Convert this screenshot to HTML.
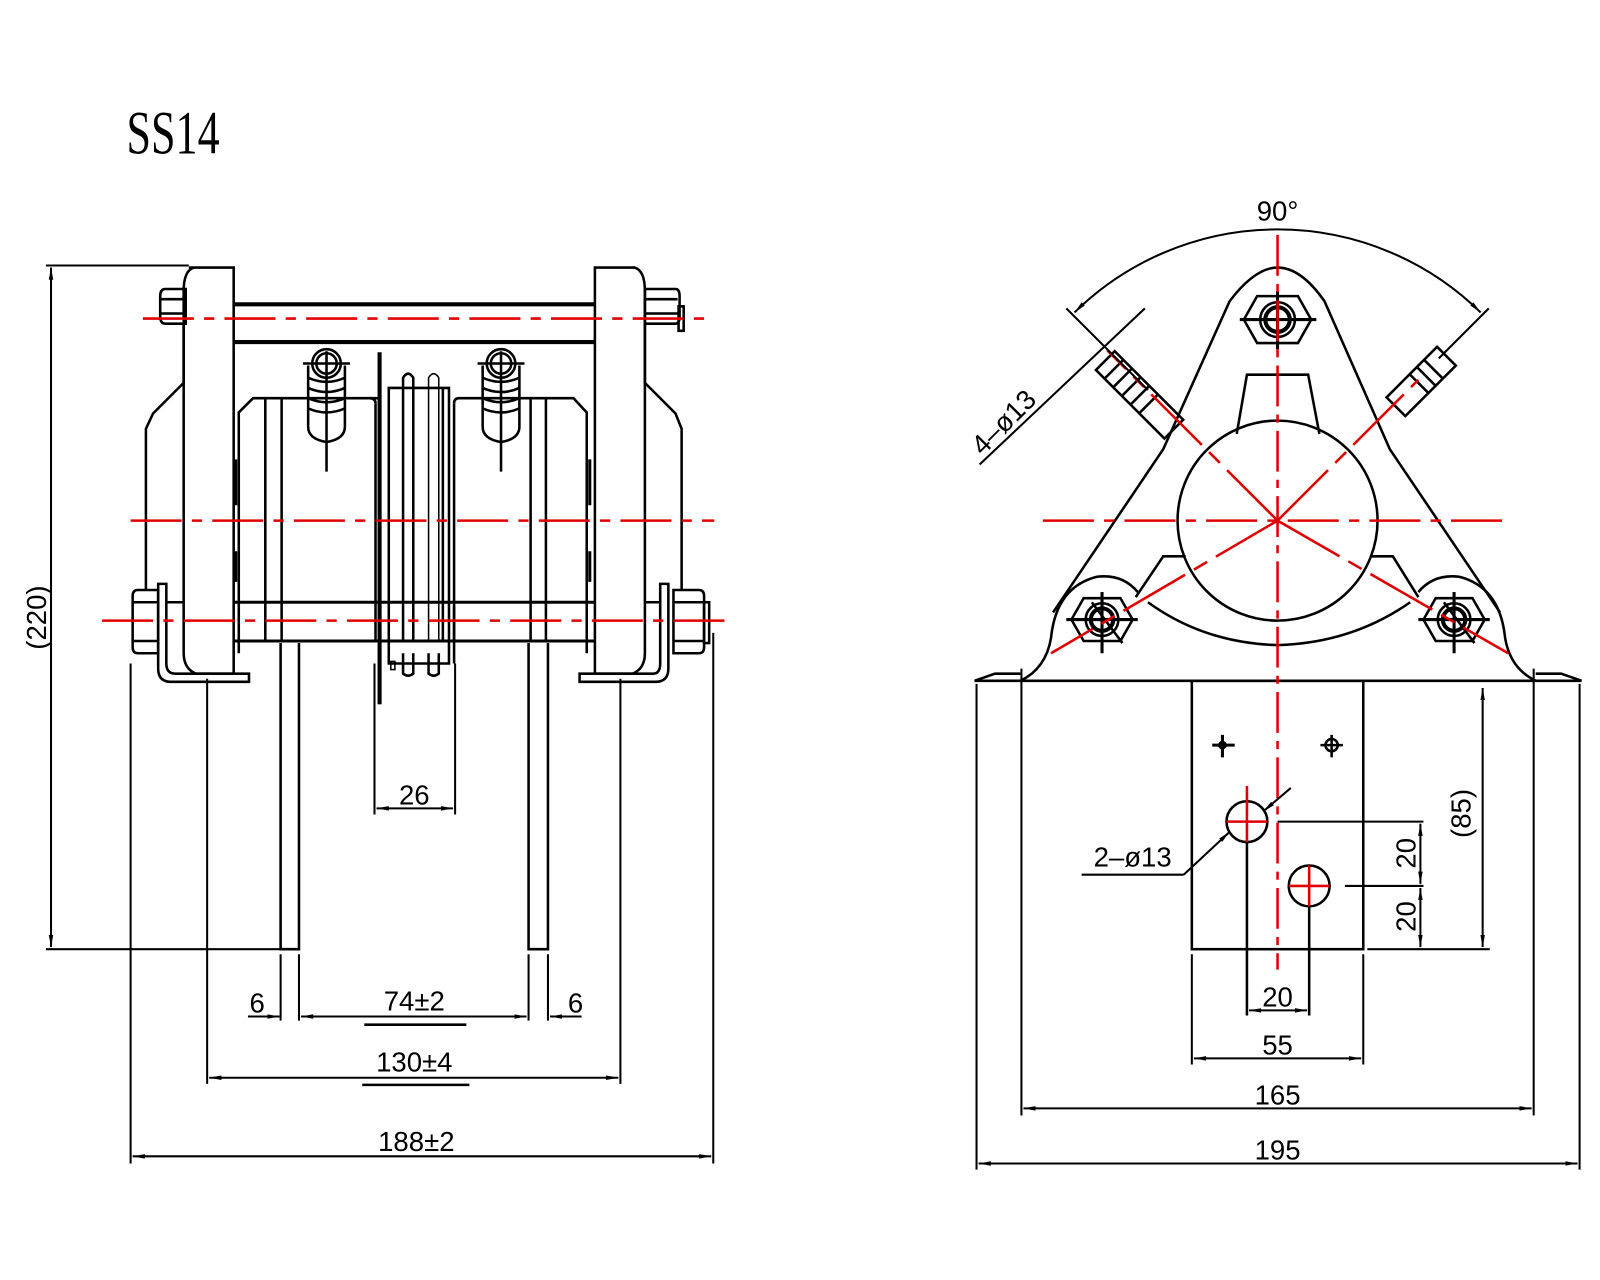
<!DOCTYPE html>
<html><head><meta charset="utf-8"><style>
html,body{margin:0;padding:0;background:#fff;}
svg{display:block;}
text{font-family:"Liberation Sans",sans-serif;fill:#000;}
</style></head><body>
<svg width="1600" height="1280" viewBox="0 0 1568 1254" xmlns="http://www.w3.org/2000/svg">
<defs>
<marker id="a" viewBox="0 0 12 6" refX="12" refY="3" markerWidth="12" markerHeight="6" markerUnits="userSpaceOnUse" orient="auto-start-reverse"><path d="M0,0.8 L12,3 L0,5.2z" fill="#000"/></marker>
</defs>
<rect width="1568" height="1254" fill="#fff"/>
<text x="124" y="150" font-size="60" transform="translate(124 0) scale(0.72 1) translate(-124 0)" style="font-family:'Liberation Serif',serif">SS14</text>

<!-- ========== LEFT VIEW ========== -->
<g fill="none" stroke="#000" stroke-width="2.5">
<path d="M180,318 L180,375 L150,405 L143,420 L143,578"/>
<path d="M632,318 L632,375 L662,405 L668,420 L668,578"/>
<path d="M185,262 L229,262 L229,660 L192,660 Q180,655 180,640 L180,285 Q180,265 190,262z"/>
<path d="M583,262 L622,262 Q632,265 632,285 L632,640 Q632,655 620,660 L583,660z"/>
<line x1="229" y1="298" x2="583" y2="298" stroke-width="4"/>
<line x1="229" y1="335" x2="583" y2="335" stroke-width="4"/>
<path d="M162,283 L182,283 L182,317 L162,317 Q157,317 157,310 L157,290 Q157,283 162,283z"/>
<line x1="157" y1="293" x2="182" y2="293"/><line x1="157" y1="307" x2="182" y2="307"/>
<path d="M632,283 L662,283 Q666,283 666,290 L666,310 Q666,317 662,317 L632,317z"/>
<line x1="632" y1="293" x2="664" y2="293"/><line x1="632" y1="307" x2="664" y2="307"/>
<rect x="665" y="300" width="5" height="24"/>
<path d="M372,390 L248,390 L234,404 L234,640"/>
<line x1="260" y1="390" x2="260" y2="628"/><line x1="276" y1="390" x2="276" y2="628"/>
<path d="M368,395 Q368,390 362,390"/>
<line x1="368" y1="395" x2="368" y2="628"/>
<path d="M445,395 Q445,390 450,390 L562,390 L575,404 L575,640"/>
<line x1="520" y1="390" x2="520" y2="628"/><line x1="535" y1="390" x2="535" y2="628"/>
<line x1="445" y1="395" x2="445" y2="628"/>
<line x1="372" y1="345" x2="372" y2="690" stroke-width="4"/>
<path d="M381,628 L381,380 L440,380 L440,628"/>
<path d="M395,628 L395,370 Q400,362 405,370 L405,628"/>
<path d="M420,628 L420,370 Q425,362 430,370 L430,628" stroke-width="1.5"/>
<line x1="434" y1="380" x2="434" y2="628"/>
<path d="M381,628 L381,650 L440,650 L440,628"/>
<path d="M395,640 L395,660 Q400,664 405,660 L405,640"/>
<path d="M420,640 L420,660 Q425,664 430,660 L430,640"/>
<rect x="383" y="648" width="4" height="8" stroke-width="1.5"/>
<g id="sp">
<circle cx="320" cy="356" r="14"/><circle cx="320" cy="356" r="10"/>
<line x1="297" y1="356" x2="343" y2="356"/><line x1="320" y1="344" x2="320" y2="462"/>
<path d="M302,358 L302,418 Q302,430 320,433 Q338,430 338,418 L338,358"/>
<path d="M302,370 Q320,378 338,370 M302,380 Q320,388 338,380 M302,390 Q320,398 338,390 M302,400 Q320,408 338,400"/>
</g>
<use href="#sp" transform="translate(171 0)"/>
<path d="M231,450 L231,495 M231,540 L231,570 M578,450 L578,495 M578,540 L578,570" stroke-width="3"/>
<line x1="229" y1="590" x2="583" y2="590" stroke-width="3"/>
<line x1="229" y1="628" x2="583" y2="628" stroke-width="3"/>
<line x1="372" y1="594" x2="372" y2="690"/><line x1="445" y1="594" x2="445" y2="650"/>
<path d="M135,578 L155,578 L155,640 L135,640 Q130,640 130,634 L130,584 Q130,578 135,578z"/>
<line x1="130" y1="590" x2="155" y2="590"/><line x1="130" y1="628" x2="155" y2="628"/>
<path d="M660,578 L685,578 Q690,578 690,584 L690,634 Q690,640 685,640 L660,640z"/>
<line x1="660" y1="590" x2="690" y2="590"/><line x1="660" y1="628" x2="690" y2="628"/>
<rect x="690" y="590" width="5" height="40"/>
<path d="M155,572 L155,655 Q155,668 168,668 L244,668 L244,660 L172,660 Q163,660 163,650 L163,572z"/>
<line x1="163" y1="590" x2="180" y2="590"/>
<path d="M655,572 L655,655 Q655,668 642,668 L568,668 L568,660 L640,660 Q647,660 647,650 L647,572z"/>
<line x1="632" y1="590" x2="647" y2="590"/>
<path d="M275,630 L275,930 L293,930 L293,630"/>
<path d="M518,630 L518,930 L537,930 L537,630"/>
</g>
<g stroke="#e00000" stroke-width="2.5" fill="none" stroke-dasharray="50,10,10,10">
<line x1="140" y1="312" x2="690" y2="312"/>
<line x1="128" y1="510" x2="700" y2="510"/>
<line x1="100" y1="608" x2="712" y2="608"/>
</g>
<g stroke="#000" stroke-width="2" fill="none">
<line x1="45" y1="260" x2="185" y2="260"/>
<line x1="45" y1="930" x2="293" y2="930"/>
<line x1="50" y1="262" x2="50" y2="928" marker-start="url(#a)" marker-end="url(#a)"/>
<line x1="367" y1="650" x2="367" y2="798"/><line x1="446" y1="650" x2="446" y2="798"/>
<line x1="369" y1="792" x2="444" y2="792" marker-start="url(#a)" marker-end="url(#a)"/>
<line x1="275" y1="935" x2="275" y2="1000"/><line x1="293" y1="935" x2="293" y2="1000"/>
<line x1="518" y1="935" x2="518" y2="1000"/><line x1="537" y1="935" x2="537" y2="1000"/>
<line x1="243" y1="996" x2="274" y2="996" marker-end="url(#a)"/>
<line x1="295" y1="996" x2="516" y2="996" marker-start="url(#a)" marker-end="url(#a)"/>
<line x1="570" y1="996" x2="539" y2="996" marker-end="url(#a)"/>
<line x1="357" y1="1004" x2="457" y2="1004" stroke-width="2.5"/>
<line x1="203" y1="665" x2="203" y2="1062"/><line x1="608" y1="665" x2="608" y2="1062"/>
<line x1="205" y1="1056" x2="606" y2="1056" marker-start="url(#a)" marker-end="url(#a)"/>
<line x1="355" y1="1063" x2="460" y2="1063" stroke-width="2.5"/>
<line x1="128" y1="650" x2="128" y2="1140"/><line x1="699" y1="620" x2="699" y2="1140"/>
<line x1="130" y1="1133" x2="697" y2="1133" marker-start="url(#a)" marker-end="url(#a)"/>
</g>
<g font-size="27">
<text x="36" y="605" text-anchor="middle" transform="rotate(-90 36 605)" dy="9">(220)</text>
<text x="406" y="788" text-anchor="middle">26</text>
<text x="252" y="992" text-anchor="middle">6</text>
<text x="406" y="990" text-anchor="middle">74±2</text>
<text x="564" y="992" text-anchor="middle">6</text>
<text x="406" y="1050" text-anchor="middle">130±4</text>
<text x="408" y="1128" text-anchor="middle">188±2</text>
</g>

<!-- ========== RIGHT VIEW ========== -->
<g fill="none" stroke="#000" stroke-width="2.5">
<path d="M1000,667 Q1025,655 1030,625 Q1035,575 1075,565 Q1100,562 1115,580"/>
<path d="M1032,600 L1140,440 L1205,295 Q1230,262 1252,262 Q1275,262 1298,295 L1362,440 L1470,600"/>
<path d="M1505,667 Q1480,655 1475,625 Q1470,575 1430,565 Q1405,562 1390,580"/>
<path d="M1125,590 Q1180,630 1252,632 Q1325,630 1382,590"/>
<path d="M1113,585 L1140,545 L1162,545 M1390,585 L1365,545 L1343,545"/>
<path d="M1212,425 L1222,367 L1282,367 L1293,425"/>
<circle cx="1252" cy="510" r="98"/>
<path d="M1232,290 L1272,290 L1285,313 L1272,336 L1232,336 L1219,313z"/>
<circle cx="1252" cy="313" r="17"/><circle cx="1252" cy="313" r="12" stroke-width="4"/>
<line x1="1215" y1="313" x2="1290" y2="313" stroke-width="3"/>
<line x1="1252" y1="285" x2="1252" y2="342" stroke-width="3"/>
<g id="bn">
<path d="M1062,586 L1098,586 L1110,607 L1098,628 L1062,628 L1050,607z"/>
<circle cx="1080" cy="607" r="16"/><circle cx="1080" cy="607" r="11" stroke-width="4"/>
<line x1="1045" y1="607" x2="1115" y2="607" stroke-width="3"/>
<line x1="1080" y1="580" x2="1080" y2="640" stroke-width="3"/>
<line x1="1070" y1="590" x2="1100" y2="630"/>
</g>
<use href="#bn" transform="translate(345 0)"/>
<g transform="rotate(45 1115 385)">
<rect x="1070" y="372" width="95" height="26"/>
<line x1="1082" y1="372" x2="1082" y2="398"/><line x1="1094" y1="372" x2="1094" y2="398"/><line x1="1106" y1="372" x2="1106" y2="398"/><line x1="1118" y1="372" x2="1118" y2="398"/><line x1="1130" y1="372" x2="1130" y2="398"/>
</g>
<g transform="rotate(-45 1385 380)">
<rect x="1360" y="368" width="70" height="26"/>
<line x1="1392" y1="368" x2="1392" y2="394"/><line x1="1402" y1="368" x2="1402" y2="394"/><line x1="1412" y1="368" x2="1412" y2="394"/>
</g>
<path d="M955,667 L1550,667 M955,667 L975,660 L1000,660 M1550,667 L1530,660 L1505,660"/>
<rect x="1168" y="667" width="168" height="263"/>
<circle cx="1222" cy="805" r="20"/><circle cx="1283" cy="868" r="20"/>
<path d="M1188,730 L1210,730 M1198,720 L1198,742" stroke-width="3"/>
<circle cx="1198" cy="730" r="3" fill="#000"/>
<path d="M1294,730 L1316,730 M1305,720 L1305,742"/><circle cx="1305" cy="730" r="6"/>
<line x1="1222" y1="825" x2="1222" y2="995"/><line x1="1283" y1="888" x2="1283" y2="995"/>
</g>
<g stroke="#e00000" stroke-width="2.5" fill="none">
<line x1="1252" y1="230" x2="1252" y2="950" stroke-dasharray="40,8,8,8"/>
<line x1="1022" y1="510" x2="1482" y2="510" stroke-dasharray="50,10,10,10"/>
<line x1="1252" y1="510" x2="1085" y2="343" stroke-dasharray="70,10,15,10"/>
<line x1="1252" y1="510" x2="1390" y2="372" stroke-dasharray="70,10,15,10"/>
<line x1="1252" y1="510" x2="1030" y2="640" stroke-dasharray="70,10,15,10"/>
<line x1="1252" y1="510" x2="1478" y2="640" stroke-dasharray="70,10,15,10"/>
<line x1="1202" y1="805" x2="1242" y2="805"/><line x1="1222" y1="770" x2="1222" y2="825"/>
<line x1="1263" y1="868" x2="1303" y2="868"/><line x1="1283" y1="848" x2="1283" y2="888"/>
</g>
<g stroke="#000" stroke-width="2" fill="none">
<path d="M1053,306 A284,284 0 0 1 1451,306" marker-start="url(#a)" marker-end="url(#a)"/>
<line x1="1045" y1="302" x2="1125" y2="382"/>
<line x1="1459" y1="302" x2="1410" y2="351"/>
<line x1="960" y1="455" x2="1122" y2="302"/>
<line x1="1060" y1="857" x2="1160" y2="857"/>
<line x1="1160" y1="857" x2="1205" y2="815" marker-end="url(#a)"/>
<line x1="1265" y1="772" x2="1238" y2="795" marker-end="url(#a)"/>
<line x1="1252" y1="805" x2="1395" y2="805"/>
<line x1="1318" y1="868" x2="1395" y2="868"/>
<line x1="1340" y1="930" x2="1460" y2="930"/>
<line x1="1392" y1="807" x2="1392" y2="866" marker-start="url(#a)" marker-end="url(#a)"/>
<line x1="1392" y1="870" x2="1392" y2="928" marker-start="url(#a)" marker-end="url(#a)"/>
<line x1="1453" y1="674" x2="1453" y2="928" marker-start="url(#a)" marker-end="url(#a)"/>
<line x1="1224" y1="990" x2="1281" y2="990" marker-start="url(#a)" marker-end="url(#a)"/>
<line x1="1168" y1="935" x2="1168" y2="1043"/><line x1="1336" y1="935" x2="1336" y2="1043"/>
<line x1="1170" y1="1037" x2="1334" y2="1037" marker-start="url(#a)" marker-end="url(#a)"/>
<line x1="1001" y1="655" x2="1001" y2="1093"/><line x1="1503" y1="655" x2="1503" y2="1093"/>
<line x1="1003" y1="1086" x2="1501" y2="1086" marker-start="url(#a)" marker-end="url(#a)"/>
<line x1="957" y1="670" x2="957" y2="1146"/><line x1="1548" y1="670" x2="1548" y2="1146"/>
<line x1="959" y1="1140" x2="1546" y2="1140" marker-start="url(#a)" marker-end="url(#a)"/>
</g>
<g font-size="27">
<text x="1252" y="216" text-anchor="middle">90°</text>
<text x="990" y="420" text-anchor="middle" transform="rotate(-45 990 420)">4–ø13</text>
<text x="1110" y="849" text-anchor="middle">2–ø13</text>
<text x="1378" y="836" text-anchor="middle" transform="rotate(-90 1378 836)" dy="9">20</text>
<text x="1378" y="898" text-anchor="middle" transform="rotate(-90 1378 898)" dy="9">20</text>
<text x="1432" y="797" text-anchor="middle" transform="rotate(-90 1432 797)" dy="9">(85)</text>
<text x="1252" y="986" text-anchor="middle">20</text>
<text x="1252" y="1033" text-anchor="middle">55</text>
<text x="1252" y="1082" text-anchor="middle">165</text>
<text x="1252" y="1136" text-anchor="middle">195</text>
</g>
</svg>
</body></html>
